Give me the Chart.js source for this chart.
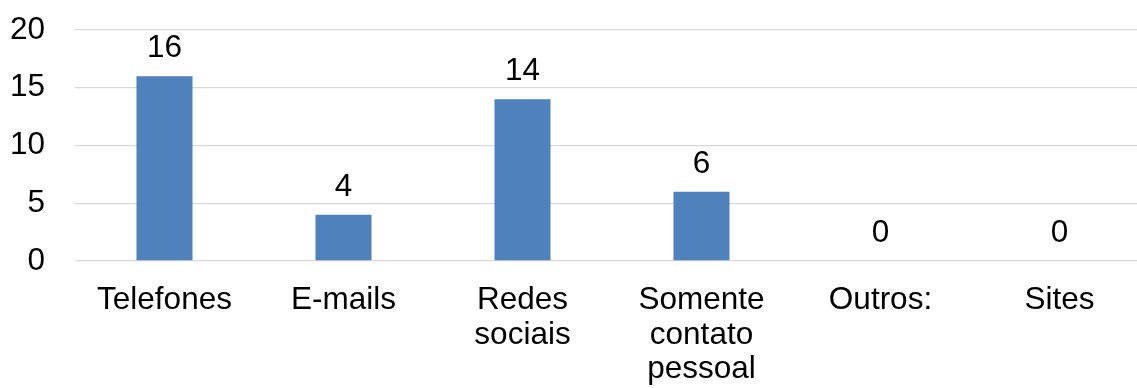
<!DOCTYPE html>
<html>
<head>
<meta charset="utf-8">
<title>Canais de contato</title>
<script src="https://cdn.jsdelivr.net/npm/chart.js@4.4.1/dist/chart.umd.min.js"></script>
<style>
    html, body { margin: 0; padding: 0; background: #fff; overflow: hidden; }
    .chart-box { position: relative; width: 1149px; height: 388px; }
</style>
</head>
<body>
<div class="chart-box">
    <canvas id="contactChart"></canvas>
</div>
<script>
// Categories (multi-line labels as arrays)
const categories = [
    'Telefones',
    'E-mails',
    ['Redes', 'sociais'],
    ['Somente', 'contato', 'pessoal'],
    'Outros:',
    'Sites'
];
const responses = [16, 4, 14, 6, 0, 0];
const yTicks = [0, 5, 10, 15, 20];

const FONT = "'Liberation Sans', Arial, sans-serif";
const FONT_SIZE = 31.5;

// Draws the value above each bar
const valueLabels = {
    id: 'valueLabels',
    afterDatasetsDraw(chart) {
        const { ctx } = chart;
        const meta = chart.getDatasetMeta(0);
        ctx.save();
        ctx.font = FONT_SIZE + 'px ' + FONT;
        ctx.fillStyle = '#000';
        ctx.textAlign = 'center';
        ctx.textBaseline = 'alphabetic';
        meta.data.forEach((bar, i) => {
            ctx.fillText(String(responses[i]), bar.x, bar.y - 19);
        });
        ctx.restore();
    }
};

// fixed axis sizes, no extra room for overhanging labels
const fixAxis = size => scale => {
    scale.paddingLeft = 0;
    scale.paddingRight = 0;
    scale.paddingTop = 0;
    scale.paddingBottom = 0;
    if (scale.isHorizontal()) scale.height = size;
    else scale.width = size;
};

const ctx = document.getElementById('contactChart').getContext('2d');
new Chart(ctx, {
    type: 'bar',
    data: {
        labels: categories,
        datasets: [{
            data: responses,
            backgroundColor: '#4F81BD',
            borderWidth: 0,
            barPercentage: 0.313,
            categoryPercentage: 1
        }]
    },
    options: {
        responsive: true,
        maintainAspectRatio: false,
        animation: false,
        layout: { padding: { left: 10, top: 30, right: 0, bottom: 0 } },
        plugins: {
            legend: { display: false },
            tooltip: { enabled: false }
        },
        scales: {
            x: {
                afterFit: fixAxis(127),
                grid: { display: false },
                border: { display: false },
                ticks: {
                    color: '#000',
                    font: { family: FONT, size: FONT_SIZE, lineHeight: 1.1 },
                    padding: 14,
                    maxRotation: 0,
                    autoSkip: false
                }
            },
            y: {
                min: 0,
                max: 20,
                afterFit: fixAxis(65),
                afterBuildTicks: axis => {
                    axis.ticks = yTicks.map(v => ({ value: v }));
                },
                grid: { color: '#d9d9d9', lineWidth: 1.3, drawTicks: false },
                border: { display: false },
                ticks: {
                    color: '#000',
                    font: { family: FONT, size: FONT_SIZE },
                    padding: 30
                }
            }
        }
    },
    plugins: [valueLabels]
});
</script>
</body>
</html>
